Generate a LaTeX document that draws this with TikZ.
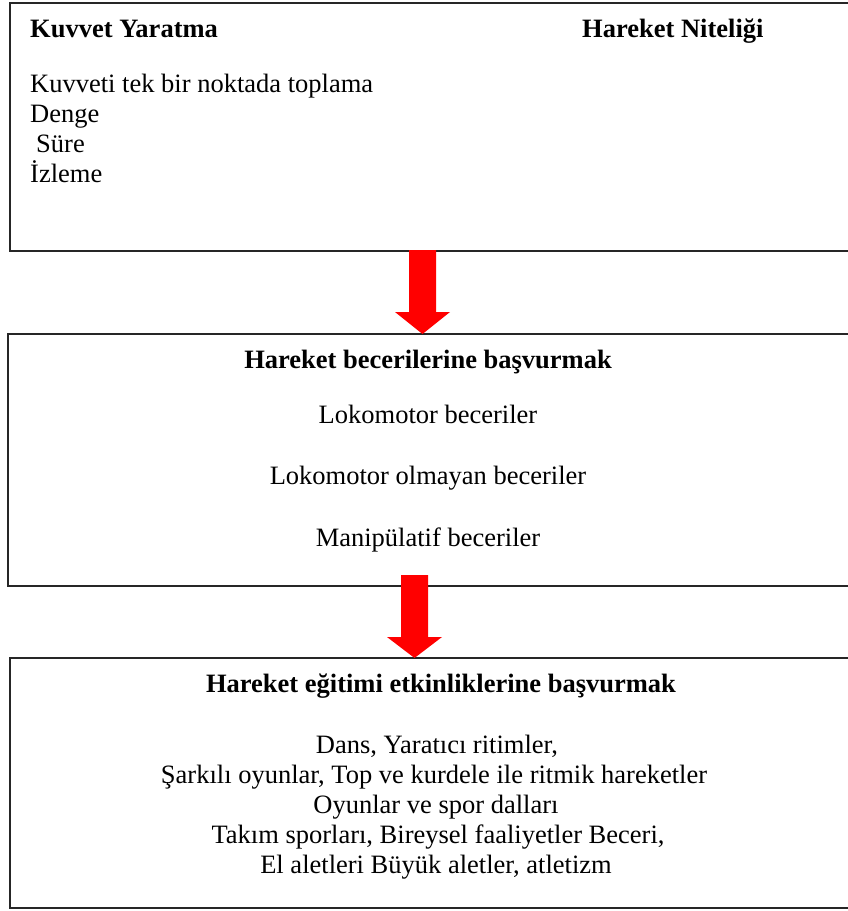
\documentclass[tikz,border=0pt]{standalone}
\usepackage{fontspec}
\setmainfont{Liberation Serif}
\begin{document}
\begin{tikzpicture}[x=1pt,y=-1pt,
  box/.style={draw=black!85,line width=2pt,inner sep=0pt,anchor=north west},
  txt/.style={inner sep=0pt,font=\fontsize{26.5}{30}\selectfont},
  hd/.style={txt,font=\fontsize{26.5}{30}\selectfont\bfseries},
  blockarrow/.style={fill=red,draw=none}]
\useasboundingbox (0,0) rectangle (847,911);
% boxes
\node[box,minimum width=845pt,minimum height=248pt] (b1) at (9,2) {};
\node[box,minimum width=847pt,minimum height=252pt] (b2) at (7,333) {};
\node[box,minimum width=845pt,minimum height=250pt] (b3) at (9,657) {};
% box 1 text
\node[hd,anchor=base west] (t1) at (30,37) {Kuvvet Yaratma};
\node[hd,anchor=base west] (t2) at (582,37) {Hareket Niteliği};
\node[txt,anchor=base west] (t3) at (30,92) {Kuvveti tek bir noktada toplama};
\node[txt,anchor=base west] (t4) at (30,122) {Denge};
\node[txt,anchor=base west] (t5) at (36,152) {Süre};
\node[txt,anchor=base west] (t6) at (30,182) {İzleme};
% box 2 text
\node[hd,anchor=base] (u1) at (428,368) {Hareket becerilerine başvurmak};
\node[txt,anchor=base] (u2) at (428,423) {Lokomotor beceriler};
\node[txt,anchor=base] (u3) at (428,484) {Lokomotor olmayan beceriler};
\node[txt,anchor=base] (u4) at (428,546) {Manipülatif beceriler};
% box 3 text
\node[hd,anchor=base] (v1) at (441,692) {Hareket eğitimi etkinliklerine başvurmak};
\node[txt,anchor=base] (v2) at (437,753) {Dans, Yaratıcı ritimler,};
\node[txt,anchor=base] (v3) at (434,783) {Şarkılı oyunlar, Top ve kurdele ile ritmik hareketler};
\node[txt,anchor=base] (v4) at (436,813) {Oyunlar ve spor dalları};
\node[txt,anchor=base] (v5) at (438,843) {Takım sporları, Bireysel faaliyetler Beceri,};
\node[txt,anchor=base] (v6) at (436,873) {El aletleri Büyük aletler, atletizm};
% arrows
\coordinate (a1s) at (422.5,250);
\coordinate (a1t) at (422.5,334);
\fill[blockarrow] (a1s) ++(-13.5,0) -- ++(27,0) -- ++(0,62) -- ++(14,0) -- (a1t) -- ++(-27.5,-22) -- ++(14,0) -- cycle;
\coordinate (a2s) at (414.5,575);
\coordinate (a2t) at (414.5,658);
\fill[blockarrow] (a2s) ++(-13.5,0) -- ++(27,0) -- ++(0,62) -- ++(14,0) -- (a2t) -- ++(-27.5,-21) -- ++(14,0) -- cycle;
\end{tikzpicture}
\end{document}
